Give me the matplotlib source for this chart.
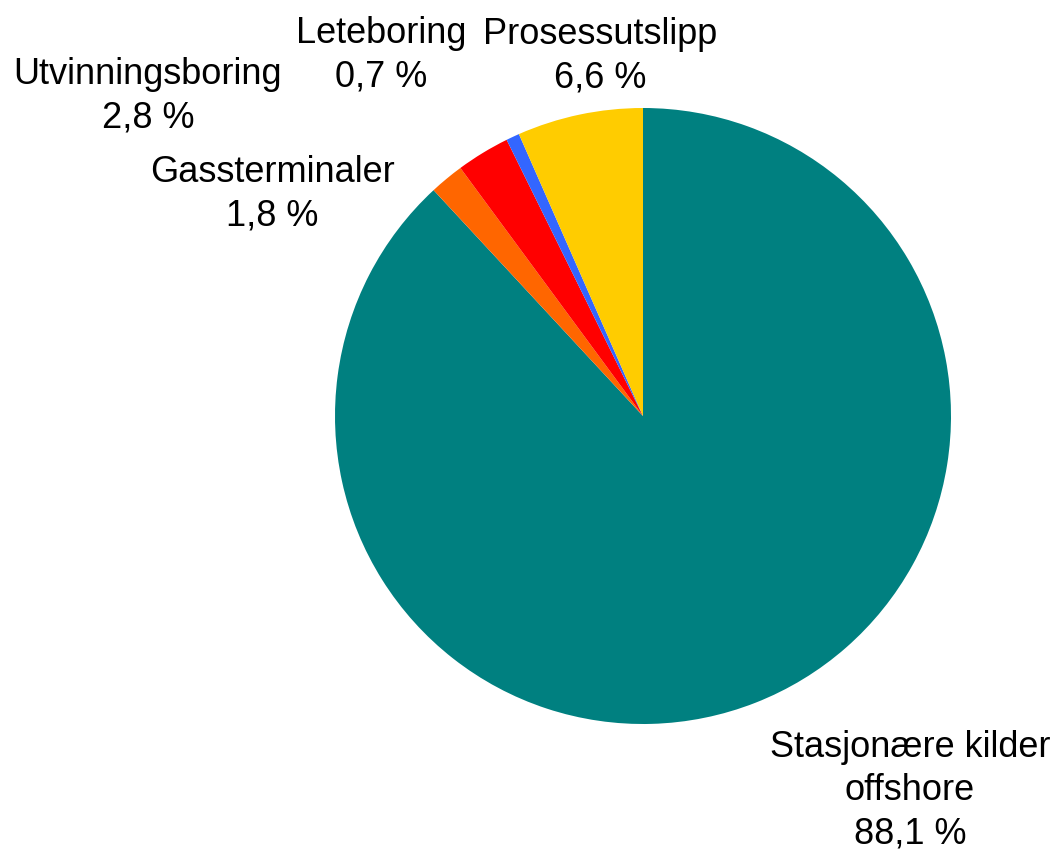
import matplotlib
matplotlib.use("Agg")
import matplotlib.pyplot as plt

categories = ["Stasjonære kilder\noffshore", "Gassterminaler", "Utvinningsboring", "Leteboring", "Prosessutslipp"]
values = [88.1, 1.8, 2.8, 0.7, 6.6]
colors = ["#008080", "#FF6600", "#FF0000", "#3366FF", "#FFCC00"]

# label anchor positions (pixel centres in the figure)
label_pos = [(910, 791), (272, 194), (148, 96), (381, 55), (600, 56)]

W, H = 1057, 858
cx, cy, R = 643, 416, 308

plt.rcParams['font.family'] = ['Liberation Sans', 'DejaVu Sans']
fig = plt.figure(figsize=(W / 100, H / 100), dpi=100)
ax = fig.add_axes([0, 0, 1, 1])
ax.pie(values, colors=colors, startangle=90, counterclock=False, radius=1,
       wedgeprops=dict(linewidth=0))
ax.set_xlim(-cx / R, (W - cx) / R)
ax.set_ylim(-(H - cy) / R, cy / R)
ax.set_aspect('equal')
ax.axis('off')

for cat, v, (px, py) in zip(categories, values, label_pos):
    txt = f"{cat}\n{v:.1f} %".replace(".", ",")
    fig.text(px / W, 1 - py / H, txt, ha='center', va='center', fontsize=26,
             linespacing=1.3, color='black')

fig.savefig("out.png", dpi=100)
